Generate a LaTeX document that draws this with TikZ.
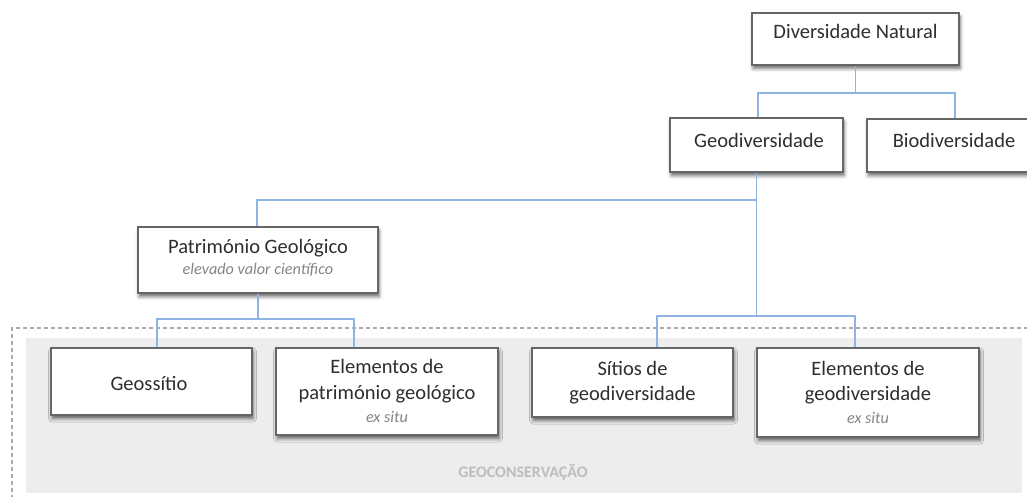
\documentclass[tikz,border=0pt]{standalone}
\usepackage{fontspec}
\setmainfont{Carlito}
\usetikzlibrary{shadows.blur}
\definecolor{conn}{HTML}{8EB4E3}
\definecolor{boxline}{HTML}{666666}
\definecolor{txt}{HTML}{2E2E2E}
\definecolor{subtxt}{HTML}{858585}
\definecolor{zone}{HTML}{EDEDED}
\definecolor{zonedash}{HTML}{AAAAAA}
\definecolor{zonetxt}{HTML}{BDBDBD}
\tikzset{
  box/.style={draw=boxline, line width=1.5pt, fill=white, rectangle, inner sep=0pt,
    blur shadow={shadow xshift=1pt, shadow yshift=-3.5pt, shadow blur radius=3.5pt, shadow opacity=60}},
  conline/.style={draw=conn, line width=1.6pt},
  lbl/.style={anchor=base, text=txt, inner sep=0pt, font=\fontsize{20.5}{24}\selectfont},
  sub/.style={anchor=base, text=subtxt, inner sep=0pt, font=\fontsize{16.2}{19}\selectfont\itshape},
  zonelbl/.style={anchor=base, text=zonetxt, inner sep=0pt, font=\fontsize{16}{19}\selectfont\bfseries}
}
\begin{document}
\begin{tikzpicture}[x=1pt,y=-1pt]
\useasboundingbox (0,0) rectangle (1027,497);
% conservation zone
\fill[zone] (26,338) rectangle (1022,493);
\draw[zonedash, line width=1.4pt, dash pattern=on 4pt off 3pt] (1035,328) -- (12,328) -- (12,505);
\node[zonelbl] (zl) at (523,477) {GEOCONSERVAÇÃO};
% boxes
\node[box, minimum width=207pt, minimum height=52pt] (dn) at (855.5,39) {};
\node[box, minimum width=173pt, minimum height=54pt] (geo) at (756.5,145) {};
\node[box, minimum width=174pt, minimum height=53pt] (bio) at (954,145.5) {};
\node[box, minimum width=240pt, minimum height=66pt] (pat) at (258,260) {};
\node[box, minimum width=201pt, minimum height=67pt] (geos) at (151.5,381.5) {};
\node[box, minimum width=222pt, minimum height=87pt] (elp) at (387,391.5) {};
\node[box, minimum width=201pt, minimum height=69pt] (sit) at (632.5,382.5) {};
\node[box, minimum width=222pt, minimum height=89pt] (elg) at (868,392.5) {};
% connectors
\draw[conline] (dn.south) -- (855.5,93) -| ([xshift=1.5pt]geo.north);
\draw[conline] (dn.south) -- (855.5,93) -| ([xshift=1pt]bio.north);
\draw[conline] (geo.south) -- (756.5,200) -| ([xshift=-1pt]pat.north);
\draw[conline] (geo.south) -- (756.5,316) -| ([xshift=24.5pt]sit.north);
\draw[conline] (756.5,316) -| ([xshift=-13pt]elg.north);
\draw[conline] (pat.south) -- (258,319) -| ([xshift=5.5pt]geos.north);
\draw[conline] (258,319) -| ([xshift=-33pt]elp.north);
% labels
\node[lbl] (tdn) at (855.5,39) {Diversidade Natural};
\node[lbl] (tgeo) at (759,148) {Geodiversidade};
\node[lbl] (tbio) at (954,148) {Biodiversidade};
\node[lbl] (tpat) at (258,253) {Património Geológico};
\node[sub] (spat) at (258,274) {elevado valor científico};
\node[lbl] (tgeos) at (149,390) {Geossítio};
\node[lbl] (telp1) at (387,373) {Elementos de};
\node[lbl] (telp2) at (387,399) {património geológico};
\node[sub] (selp) at (387,422) {ex situ};
\node[lbl] (tsit1) at (632.5,375) {Sítios de};
\node[lbl] (tsit2) at (632.5,400) {geodiversidade};
\node[lbl] (telg1) at (868,375) {Elementos de};
\node[lbl] (telg2) at (868,400) {geodiversidade};
\node[sub] (selg) at (868,423) {ex situ};
\end{tikzpicture}
\end{document}
